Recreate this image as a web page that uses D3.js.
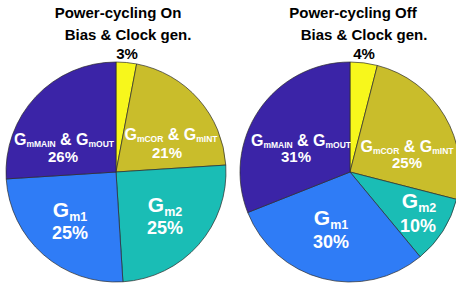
<!DOCTYPE html>
<html>
<head>
<meta charset="utf-8">
<script src="https://cdn.jsdelivr.net/npm/d3@7"></script>
<style>
  html, body { margin: 0; padding: 0; background: #fff; }
  svg { display: block; font-family: "Liberation Sans", Arial, sans-serif; font-weight: bold; }
</style>
</head>
<body>
<div id="chart"></div>
<script>
// data
const categories = ["Bias & Clock gen.", "GmCOR & GmINT", "Gm2", "Gm1", "GmMAIN & GmOUT"];
const valuesOn = [3, 21, 25, 25, 26];
const valuesOff = [4, 25, 10, 30, 31];
const titles = ["Power-cycling On", "Power-cycling Off"];
// label text pieces: [text, isSubscript]
const labelParts = [
  [["Bias & Clock gen.", false]],
  [["G", false], ["mCOR", true], [" & G", false], ["mINT", true]],
  [["G", false], ["m2", true]],
  [["G", false], ["m1", true]],
  [["G", false], ["mMAIN", true], [" & G", false], ["mOUT", true]]
];

const colors = ["#f7f71c", "#c9bd2b", "#1abdb5", "#2f7cf6", "#3b24a7"];

const width = 456, height = 289, radius = 110;

// per pie layout: centre, title spot, label spots relative to centre
const pies = [
  {
    values: valuesOn, title: titles[0], cx: 116, cy: 172, titleX: 118,
    biasX: 128, pctX: 127,
    labels: [null, [55, -32, 51, -14], [49, 40, 49, 62], [-46, 45, -46, 67], [-52, -27, -53, -10]]
  },
  {
    values: valuesOff, title: titles[1], cx: 350, cy: 172, titleX: 353,
    biasX: 364, pctX: 364,
    labels: [null, [57, -20, 57, -4], [69, 36, 68, 60], [-19, 53, -19, 76], [-49, -26, -54, -10]]
  }
];

const bigSlices = new Set([2, 3]);

const svg = d3.select("#chart").append("svg")
  .attr("width", width)
  .attr("height", height);

const pie = d3.pie().sort(null).value(d => d);
const arc = d3.arc().innerRadius(0).outerRadius(radius);

pies.forEach(p => {
  const g = svg.append("g").attr("transform", `translate(${p.cx},${p.cy})`);

  g.selectAll("path")
    .data(pie(p.values))
    .join("path")
    .attr("d", arc)
    .attr("fill", (d, i) => colors[i])
    .attr("stroke", "#2b2b2b")
    .attr("stroke-width", 0.7);

  svg.append("text")
    .attr("x", p.titleX).attr("y", 17.5)
    .attr("text-anchor", "middle")
    .attr("font-size", 15)
    .attr("fill", "#000")
    .text(p.title);

  svg.append("text")
    .attr("x", p.biasX).attr("y", 39.5)
    .attr("text-anchor", "middle")
    .attr("font-size", 15)
    .attr("fill", "#000")
    .text(categories[0]);

  svg.append("text")
    .attr("x", p.pctX).attr("y", 59)
    .attr("text-anchor", "middle")
    .attr("font-size", 15)
    .attr("fill", "#000")
    .text(p.values[0] + "%");

  p.labels.forEach((lp, i) => {
    if (!lp) return;
    const big = bigSlices.has(i);
    const mainSize = big ? 21 : 16;
    const subSize = big ? 12.5 : 8.5;
    const pctSize = big ? 18 : 15;

    const t = g.append("text")
      .attr("x", lp[0]).attr("y", lp[1])
      .attr("text-anchor", "middle")
      .attr("fill", "#fff");
    labelParts[i].forEach(([s, sub], k) => {
      const prevSub = k > 0 && labelParts[i][k - 1][1];
      let dy = 0;
      if (sub) dy = big ? 4 : 2;
      else if (prevSub) dy = big ? -4 : -2;
      t.append("tspan")
        .attr("font-size", sub ? subSize : mainSize)
        .attr("dy", dy)
        .text(s.replace(/ /g, "\u00a0"));
    });

    g.append("text")
      .attr("x", lp[2]).attr("y", lp[3])
      .attr("text-anchor", "middle")
      .attr("font-size", pctSize)
      .attr("fill", "#fff")
      .text(p.values[i] + "%");
  });
});
</script>
</body>
</html>
